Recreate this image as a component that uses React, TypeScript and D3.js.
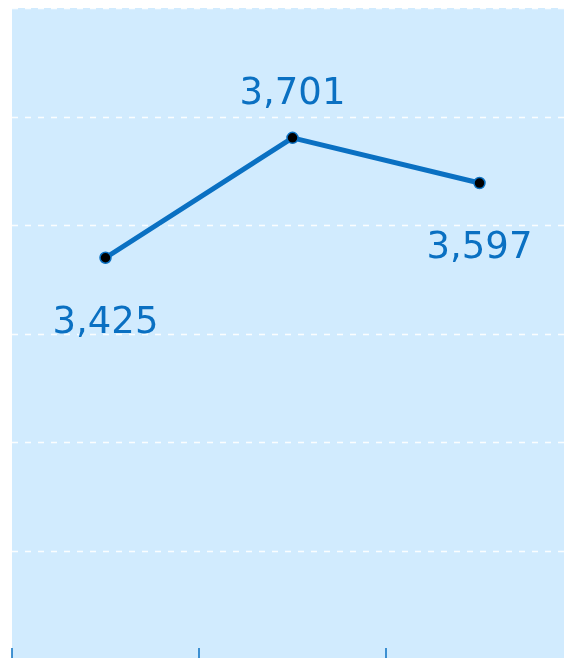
import React, { useEffect, useRef } from 'react';
import * as d3 from 'd3';

const categories = ['A', 'B', 'C'];
const values = [3425, 3701, 3597];
const labelAbove = [false, true, false];
const yTicks = [2750, 3000, 3250, 3500, 3750, 4000];

const W = 564;
const H = 658;
const BLUE = '#0a70c2';

const App = () => {
  const ref = useRef<SVGSVGElement | null>(null);

  useEffect(() => {
    const svg = d3.select(ref.current);
    svg.selectAll('*').remove();

    const left = 12;
    const top = 8;
    const step = 187;

    const x = d3.scaleBand<string>()
      .domain(categories)
      .range([left, left + step * categories.length])
      .padding(0);

    const y = d3.scaleLinear()
      .domain([2500, 4000])
      .range([659.5, top]);

    svg.append('rect')
      .attr('x', left)
      .attr('y', top)
      .attr('width', W - left)
      .attr('height', H - top)
      .attr('fill', '#d1ebfe');

    svg.append('g')
      .selectAll('line')
      .data(yTicks)
      .enter()
      .append('line')
      .attr('x1', left)
      .attr('x2', W)
      .attr('y1', d => Math.round(y(d)) + 0.5)
      .attr('y2', d => Math.round(y(d)) + 0.5)
      .attr('stroke', '#ffffff')
      .attr('stroke-width', 1.5)
      .attr('stroke-dasharray', '6,7')
      .attr('opacity', 0.9);

    // ticks at band boundaries
    const bounds = categories.map(c => x(c) as number);
    svg.append('g')
      .selectAll('line')
      .data(bounds)
      .enter()
      .append('line')
      .attr('x1', d => d)
      .attr('x2', d => d)
      .attr('y1', 648)
      .attr('y2', 660)
      .attr('stroke', BLUE)
      .attr('stroke-width', 1.5);

    const cx = (i: number) => (x(categories[i]) as number) + x.bandwidth() / 2;

    const line = d3.line<number>()
      .x((_, i) => cx(i))
      .y(d => y(d));

    svg.append('path')
      .datum(values)
      .attr('d', line)
      .attr('fill', 'none')
      .attr('stroke', BLUE)
      .attr('stroke-width', 5)
      .attr('stroke-linejoin', 'round');

    svg.append('g')
      .selectAll('circle')
      .data(values)
      .enter()
      .append('circle')
      .attr('cx', (_, i) => cx(i))
      .attr('cy', d => y(d))
      .attr('r', 5.5)
      .attr('fill', '#000')
      .attr('stroke', BLUE)
      .attr('stroke-width', 1.5);

    svg.append('g')
      .selectAll('text')
      .data(values)
      .enter()
      .append('text')
      .attr('x', (_, i) => cx(i))
      .attr('y', (d, i) => y(d) + (labelAbove[i] ? -34 : 75))
      .attr('text-anchor', 'middle')
      .attr('font-family', 'DejaVu Sans, Verdana, sans-serif')
      .attr('font-size', 37)
      .attr('fill', BLUE)
      .text(d => d3.format(',')(d));
  }, []);

  return (
    <div style={{ position: 'fixed', left: 0, top: 0, width: W, height: H, overflow: 'hidden' }}>
      <svg ref={ref} width={W} height={H} style={{ display: 'block' }} />
    </div>
  );
};

export default App;
